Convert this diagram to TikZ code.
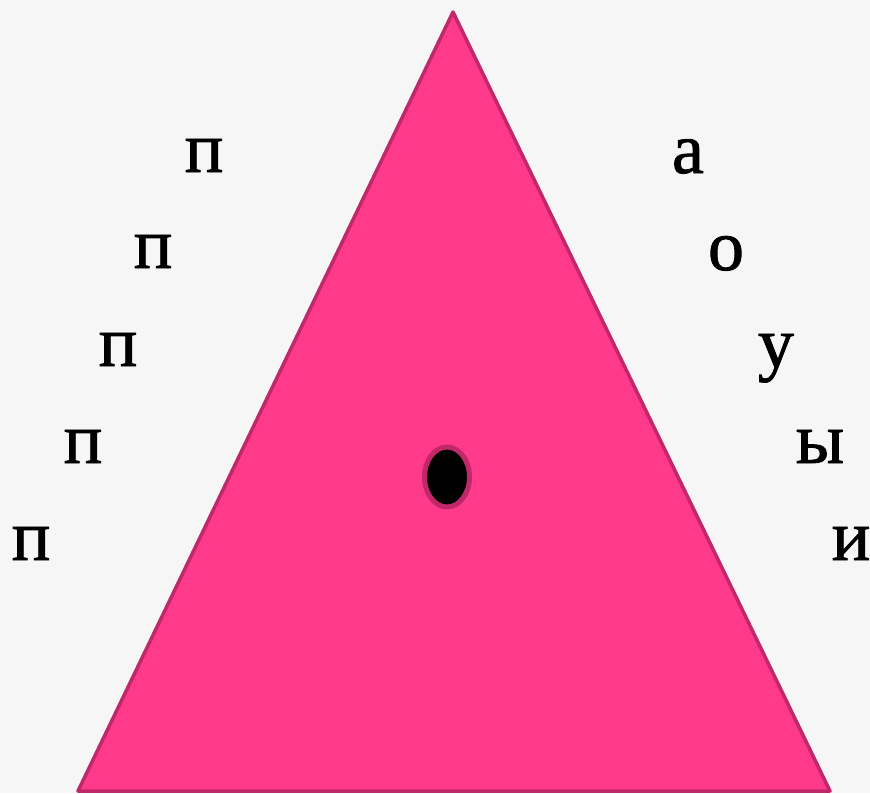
\documentclass[tikz,border=0pt]{standalone}
\usepackage{fontspec}
\setmainfont{Liberation Serif}
\newfontfamily\heavyserif[BoldFont={Liberation Serif},BoldFeatures={FakeBold=1.2}]{Liberation Serif}
\usetikzlibrary{shapes.geometric}
\definecolor{bg}{HTML}{F6F6F6}
\definecolor{pinkfill}{HTML}{FF3A8A}
\definecolor{pinkedge}{HTML}{C0286A}
\begin{document}
\begin{tikzpicture}[x=1pt,y=-1pt,
  letter/.style={anchor=base,inner sep=0pt,font=\heavyserif\bfseries\fontsize{72}{72}\selectfont}]
\fill[bg] (0,0) rectangle (870,793);
\useasboundingbox (0,0) rectangle (870,793);
\coordinate (apex) at (453,12);
\coordinate (bl) at (78,791);
\coordinate (br) at (830,791);
\filldraw[fill=pinkfill,draw=pinkedge,line width=3.5pt,line join=round] (apex) -- (br) -- (bl) -- cycle;
\node[ellipse,draw=pinkedge,fill=black,line width=5pt,minimum width=45pt,minimum height=60pt,inner sep=0pt] (dot) at (447,477) {};
% left column
\node[letter] (p1) at (204,172) {п};
\node[letter] (p2) at (153,268) {п};
\node[letter] (p3) at (118,366) {п};
\node[letter] (p4) at (83,463) {п};
\node[letter] (p5) at (31,560) {п};
% right column
\node[letter] (v1) at (688,173) {а};
\node[letter] (v2) at (726,270) {о};
\node[letter] (v3) at (776,367) {у};
\node[letter] (v4) at (820,463) {ы};
\node[letter] (v5) at (851,560) {и};
\end{tikzpicture}
\end{document}
